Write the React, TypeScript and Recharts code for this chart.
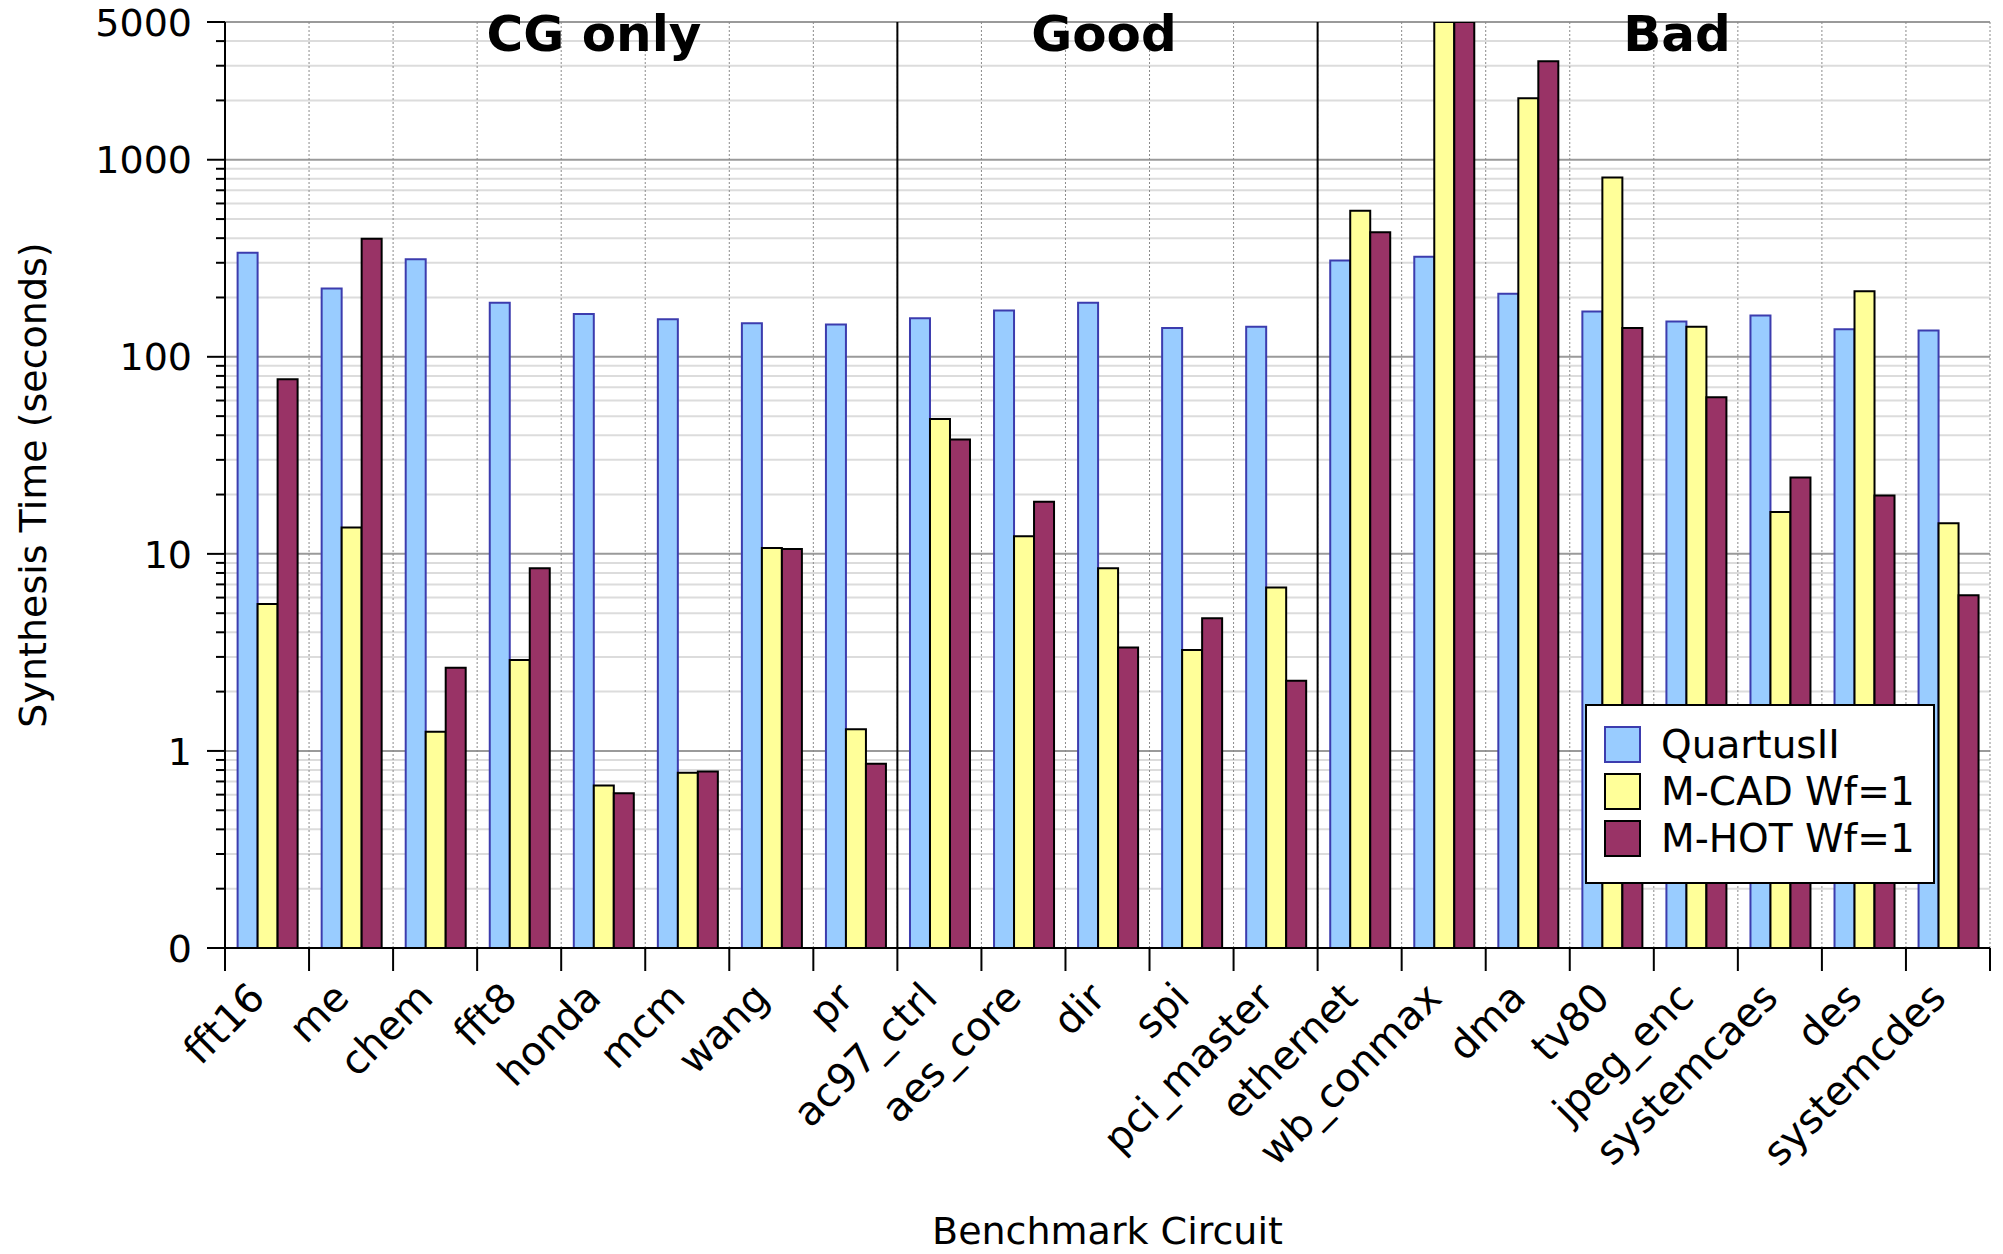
import React from 'react';
import {
  BarChart,
  Bar,
  XAxis,
  YAxis,
  CartesianGrid,
  ReferenceLine,
  Legend,
} from 'recharts';

const categories = [
  'fft16', 'me', 'chem', 'fft8', 'honda', 'mcm', 'wang', 'pr',
  'ac97_ctrl', 'aes_core', 'dir', 'spi', 'pci_master',
  'ethernet', 'wb_conmax', 'dma', 'tv80', 'jpeg_enc', 'systemcaes', 'des', 'systemcdes',
];
const quartus = [337, 222, 313, 188, 165, 155, 148, 146, 157, 172, 188, 140, 142, 308, 322, 209, 170, 151, 162, 138, 136];
const mcad = [5.56, 13.6, 1.25, 2.89, 0.668, 0.776, 10.7, 1.29, 48.4, 12.3, 8.45, 3.25, 6.76, 551, 5000, 2050, 813, 142, 16.3, 215, 14.3];
const mhot = [76.9, 397, 2.64, 8.45, 0.61, 0.787, 10.6, 0.86, 38.1, 18.4, 3.35, 4.72, 2.27, 428, 5000, 3160, 140, 62.4, 24.4, 19.8, 6.17];

const majorTicks = [0.1, 1, 10, 100, 1000, 5000];
const minorTicks = [
  0.2, 0.3, 0.4, 0.5, 0.6, 0.7, 0.8, 0.9,
  2, 3, 4, 5, 6, 7, 8, 9,
  20, 30, 40, 50, 60, 70, 80, 90,
  200, 300, 400, 500, 600, 700, 800, 900,
  2000, 3000, 4000,
];
const groupTitles = ['CG only', 'Good', 'Bad'];
const groupStarts = ['ac97_ctrl', 'ethernet'];

const series = [
  { key: 'quartus', name: 'QuartusII', fill: '#99ccff', stroke: '#3c3cae' },
  { key: 'mcad', name: 'M-CAD Wf=1', fill: '#ffff99', stroke: '#000000' },
  { key: 'mhot', name: 'M-HOT Wf=1', fill: '#993366', stroke: '#000000' },
];

const data = categories.map((name, i) => ({
  name,
  quartus: quartus[i],
  mcad: mcad[i],
  mhot: mhot[i],
}));

// layout
const W = 2003;
const H = 1254;
const M = { top: 22, right: 13, left: 0, bottom: 0 };
const Y_W = 225;
const X_H = 306;
const PLOT_W = W - Y_W - M.right;
const HALF_BAND = PLOT_W / categories.length / 2;
const FONT = '"DejaVu Sans", sans-serif';
const titleX = [594, 1104, 1677];

const fmtY = (v: number) => (v < 1 ? '0' : String(v));

const bandEdges = ({ offset }: any) =>
  [...categories, ''].map((_, i) => offset.left + (i * offset.width) / categories.length);

const YTick = (props: any) => {
  const { x, y, payload } = props;
  const major = majorTicks.includes(payload.value);
  return (
    <g>
      <line x1={x - (major ? 18 : 9)} y1={y} x2={x} y2={y} stroke="#000" strokeWidth={2} />
      {major && (
        <text x={x - 33} y={y} dy="0.36em" textAnchor="end" fontSize={38} fontFamily={FONT} fill="#000">
          {fmtY(payload.value)}
        </text>
      )}
    </g>
  );
};

const XTick = (props: any) => {
  const { x, y, payload, index } = props;
  const ax = x;
  const ay = y + 52;
  return (
    <g>
      <line x1={x - HALF_BAND} y1={y} x2={x - HALF_BAND} y2={y + 23} stroke="#000" strokeWidth={2} />
      {index === categories.length - 1 && (
        <line x1={x + HALF_BAND} y1={y} x2={x + HALF_BAND} y2={y + 23} stroke="#000" strokeWidth={2} />
      )}
      <text
        x={ax}
        y={ay}
        textAnchor="end"
        transform={`rotate(-45, ${ax}, ${ay})`}
        fontSize={40}
        fontFamily={FONT}
        fill="#000"
      >
        {payload.value}
      </text>
    </g>
  );
};

const LegendBox = () => (
  <div
    style={{
      width: 346,
      height: 161,
      border: '2px solid #000',
      background: '#fff',
      boxSizing: 'content-box',
      fontFamily: FONT,
      fontSize: 39,
      paddingTop: 15,
    }}
  >
    {series.map((s) => (
      <div key={s.key} style={{ display: 'flex', alignItems: 'center', height: 47, marginLeft: 17 }}>
        <div
          style={{
            width: 33,
            height: 33,
            background: s.fill,
            border: `2px solid ${s.stroke}`,
            marginRight: 20,
          }}
        />
        <span style={{ lineHeight: '47px', color: '#000' }}>{s.name}</span>
      </div>
    ))}
  </div>
);

export default function App() {
  return (
    <div style={{ position: 'absolute', left: 0, top: 0, width: W, height: H, background: '#fff', overflow: 'hidden' }}>
      <BarChart
        width={W}
        height={H}
        data={data}
        margin={M}
        barCategoryGap="15%"
        barGap={0}
      >
        <CartesianGrid
          horizontalValues={minorTicks}
          vertical={false}
          stroke="#dcdcdc"
          strokeWidth={2}
        />
        <CartesianGrid
          horizontalValues={majorTicks}
          vertical={false}
          stroke="#9a9a9a"
          strokeWidth={2}
        />
        <CartesianGrid
          horizontal={false}
          stroke="#8a8a8a"
          strokeWidth={1}
          strokeDasharray="2 2"
          verticalCoordinatesGenerator={bandEdges}
        />
        <XAxis
          dataKey="name"
          interval={0}
          height={X_H}
          tickSize={0}
          tickMargin={0}
          tickLine={false}
          tick={<XTick />}
          axisLine={{ stroke: '#000', strokeWidth: 2 }}
          label={{
            content: () => (
              <text x={M.left + Y_W + PLOT_W / 2} y={1244} textAnchor="middle" fontSize={38} fontFamily={FONT} fill="#000">
                Benchmark Circuit
              </text>
            ),
          }}
        />
        <YAxis
          scale="log"
          domain={[0.1, 5000]}
          allowDataOverflow
          ticks={[...majorTicks, ...minorTicks].sort((a, b) => a - b)}
          interval={0}
          width={Y_W}
          tickSize={0}
          tickMargin={0}
          tickLine={false}
          tick={<YTick />}
          axisLine={{ stroke: '#000', strokeWidth: 2 }}
          label={{
            content: () => (
              <text
                x={46}
                y={485}
                textAnchor="middle"
                transform="rotate(-90, 46, 485)"
                fontSize={38}
                fontFamily={FONT}
                fill="#000"
              >
                Synthesis Time (seconds)
              </text>
            ),
          }}
        />
        {series.map((s) => (
          <Bar
            key={s.key}
            dataKey={s.key}
            name={s.name}
            fill={s.fill}
            stroke={s.stroke}
            strokeWidth={2}
            isAnimationActive={false}
          />
        ))}
        {groupStarts.map((c) => (
          <ReferenceLine key={c} x={c} position="start" stroke="#000" strokeWidth={2} />
        ))}
        <Legend
          layout="vertical"
          align="center"
          verticalAlign="middle"
          content={() => <LegendBox />}
          wrapperStyle={{ position: 'absolute', left: 1585, top: 704, width: 'auto' }}
        />
      </BarChart>
      {groupTitles.map((t, i) => (
        <div
          key={t}
          style={{
            position: 'absolute',
            left: titleX[i],
            top: 49,
            transform: 'translate(-50%, -80%)',
            fontFamily: FONT,
            fontWeight: 'bold',
            fontSize: 50,
            lineHeight: 1,
            whiteSpace: 'nowrap',
            color: '#000',
          }}
        >
          {t}
        </div>
      ))}
    </div>
  );
}
